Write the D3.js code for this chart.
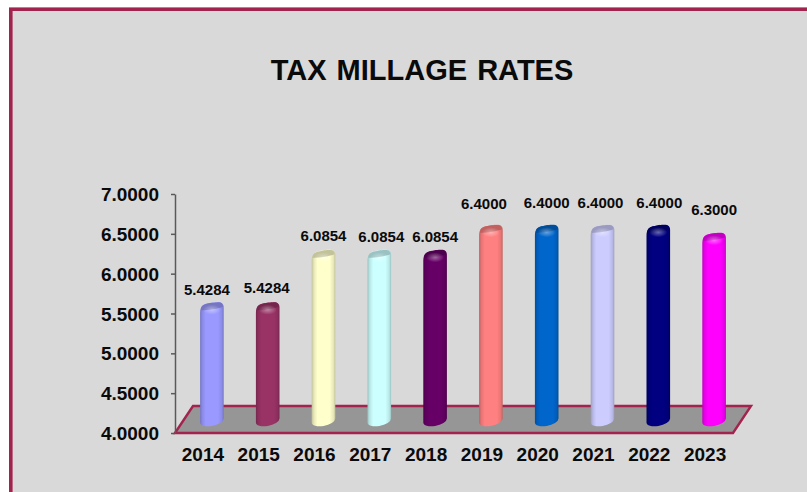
<!DOCTYPE html>
<html>
<head>
<meta charset="utf-8">
<script src="https://cdn.jsdelivr.net/npm/d3@7"></script>
<style>
  html, body { margin: 0; padding: 0; background: #fff; }
  svg { display: block; }
  text { font-family: "Liberation Sans", Arial, sans-serif; font-weight: bold; fill: #0a0a0a; }
</style>
</head>
<body>
<svg id="chart" width="807" height="492"></svg>
<script>
// Tax millage rates by year
const years = ["2014", "2015", "2016", "2017", "2018", "2019", "2020", "2021", "2022", "2023"];
const rates = [5.4284, 5.4284, 6.0854, 6.0854, 6.0854, 6.4, 6.4, 6.4, 6.4, 6.3];
const yTicks = [4, 4.5, 5, 5.5, 6, 6.5, 7];

// One colour per column
const barColors = ["#9999ff", "#993366", "#ffffcc", "#ccffff", "#660066",
                   "#ff8080", "#0066cc", "#ccccff", "#000080", "#ff00ff"];

// Value labels sit where they were placed by hand, a little off the column axis
const labelShiftX = [-5, -1, 0, 2, 0, -7, 0, -2, 1, 0];
const labelShiftY = [0, -2, -2, -1, -1.5, -9, -10, -10, -10, -11];

const frameColor = "#a3234f";
const svg = d3.select("#chart");

// Panel: only the top and left edges of its border fall inside the page
svg.append("rect")
  .attr("x", 10.8).attr("y", 9.2)
  .attr("width", 1000).attr("height", 800)
  .attr("fill", "#d9d9d9")
  .attr("stroke", frameColor).attr("stroke-width", 3.6);

svg.append("text")
  .attr("x", 422).attr("y", 80)
  .attr("text-anchor", "middle")
  .attr("font-size", 29)
  .attr("word-spacing", 2)
  .text("TAX MILLAGE RATES");

const plot = { left: 175, right: 733, top: 194, bottom: 433 };
const depth = { x: 18, y: -27 };   // how far the floor recedes

const x = d3.scaleBand().domain(years).range([plot.left, plot.right]);
const y = d3.scaleLinear().domain([4, 7]).range([plot.bottom, plot.top]);

// Floor of the 3D plot
const floor = d3.path();
floor.moveTo(plot.left, y(4));
floor.lineTo(plot.left + depth.x, y(4) + depth.y);
floor.lineTo(plot.right + depth.x, y(4) + depth.y);
floor.lineTo(plot.right, y(4));
floor.closePath();
svg.append("path")
  .attr("d", floor.toString())
  .attr("fill", "#969696")
  .attr("stroke", frameColor).attr("stroke-width", 2.4)
  .attr("stroke-linejoin", "miter");

// Axes
const yAxis = svg.append("g")
  .attr("transform", `translate(${plot.left},0)`)
  .call(d3.axisLeft(y).tickValues(yTicks).tickFormat(d3.format(".4f")).tickSize(4).tickSizeOuter(0).tickPadding(12));
yAxis.selectAll("path, line").attr("stroke", "#595959").attr("stroke-width", 1.5);
yAxis.selectAll("text").attr("font-size", 19).attr("font-family", null).attr("dy", "0.35em");

const xAxis = svg.append("g")
  .attr("transform", `translate(0,${plot.bottom})`)
  .call(d3.axisBottom(x).tickSize(0).tickPadding(15));
xAxis.select(".domain").remove();
xAxis.selectAll("text").attr("font-size", 19).attr("font-family", null).attr("dy", "0.71em");

// Cylinder geometry: half width, tilted lower end, rounded shoulders at the top
const halfW = 11.8, rx = 12, ry = 5.4, tiltDeg = -12;
const tilt = tiltDeg * Math.PI / 180;
const t0 = Math.atan(-(ry / rx) * Math.tan(tilt));
const edgeY = rx * Math.cos(t0) * Math.sin(tilt) + ry * Math.sin(t0) * Math.cos(tilt);

const defs = svg.append("defs");

defs.append("filter").attr("id", "soften")
  .attr("x", "-10%").attr("y", "-30%").attr("width", "120%").attr("height", "160%")
  .append("feGaussianBlur").attr("stdDeviation", 0.7);

// Shared sheen on the upper end of each column
const sheen = defs.append("radialGradient").attr("id", "sheen");
sheen.append("stop").attr("offset", "0").attr("stop-color", "#fff").attr("stop-opacity", 0.4);
sheen.append("stop").attr("offset", "1").attr("stop-color", "#fff").attr("stop-opacity", 0);

barColors.forEach((c, i) => {
  const edge = d3.rgb(c).darker(0.75).formatHex();
  const g = defs.append("linearGradient").attr("id", `body${i}`);
  [[0, edge], [0.1, d3.interpolateRgb(edge, c)(0.6)], [0.24, c], [0.76, c],
   [0.92, d3.interpolateRgb(edge, c)(0.6)], [1, edge]].forEach(([o, col]) => {
    g.append("stop").attr("offset", o).attr("stop-color", col);
  });
});

const rows = years.map((year, i) => ({ year, rate: rates[i], i }));
const centerX = d => x(d) + x.bandwidth() / 2 + depth.x / 2;
const baseY = y(4) + depth.y / 2 + 1;
const topY = v => y(v) + depth.y / 2 + 1;

const bars = svg.append("g").selectAll("g")
  .data(rows)
  .join("g")
  .attr("transform", d => `translate(${centerX(d.year)},0)`);

// Column body: rounded shoulders above, front half of the lower ellipse below
bars.append("path")
  .attr("fill", d => `url(#body${d.i})`)
  .attr("d", d => {
    const t = topY(d.rate);
    return `M${-halfW},${t + 6.5}` +
           `C${-halfW},${t - 1.5} -8,${t - 3} -1,${t - 3.9}` +
           `C1.5,${t - 4.3} 3,${t - 4.5} 5,${t - 4.5}` +
           `C9.5,${t - 4.8} ${halfW},${t - 3.4} ${halfW},${t + 0.5}` +
           `L${halfW},${baseY + edgeY}` +
           `A${rx},${ry} ${tiltDeg} 0 1 ${-halfW},${baseY - edgeY}Z`;
  });

// Upper end cap, shaded darker than the body, with a soft lower rim
bars.append("path")
  .attr("filter", "url(#soften)")
  .attr("fill", d => d3.interpolateRgb(barColors[d.i], d3.rgb(barColors[d.i]).darker(1))(0.8))
  .attr("d", d => {
    const t = topY(d.rate);
    return `M${-halfW + 0.8},${t + 3.6}` +
           `C${-halfW + 0.8},${t - 1.2} -8,${t - 2.8} -1,${t - 3.7}` +
           `C1.5,${t - 4.1} 3,${t - 4.3} 5,${t - 4.3}` +
           `C9.5,${t - 4.6} ${halfW - 0.8},${t - 3.2} ${halfW - 0.8},${t}` +
           `C7,${t + 1.8} -4,${t + 3.6} ${-halfW + 0.8},${t + 3.6}Z`;
  });

// Soft highlight where the cap rounds over into the body
bars.append("ellipse")
  .attr("cx", 0).attr("cy", d => topY(d.rate) + 3)
  .attr("rx", 9).attr("ry", 5)
  .attr("fill", "url(#sheen)");

// Value labels
svg.append("g").selectAll("text")
  .data(rows)
  .join("text")
  .attr("x", d => centerX(d.year) + labelShiftX[d.i])
  .attr("y", d => y(d.rate) - 29 + labelShiftY[d.i])
  .attr("dy", "0.35em")
  .attr("text-anchor", "middle")
  .attr("font-size", 15)
  .text(d => d3.format(".4f")(d.rate));
</script>
</body>
</html>
